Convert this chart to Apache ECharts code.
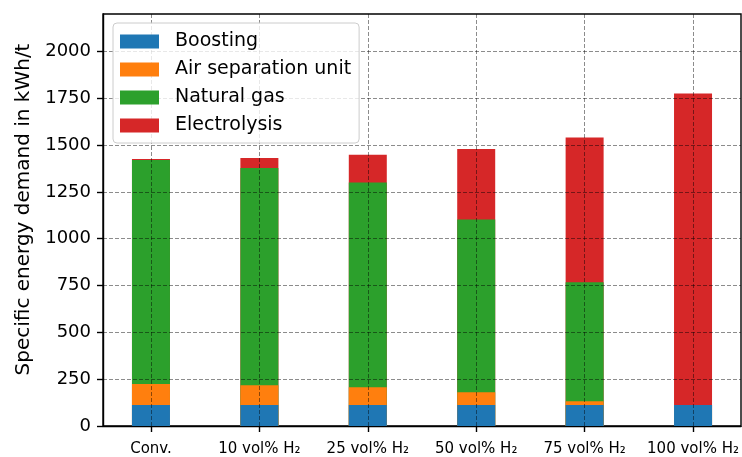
<!DOCTYPE html>
<html>
<head>
<meta charset="utf-8">
<script src="https://cdn.jsdelivr.net/npm/echarts@6/dist/echarts.min.js"></script>
<style>
  html, body { margin: 0; padding: 0; background: #fff; }
  #chart { width: 742px; height: 457px; }
</style>
</head>
<body>
<div id="chart"></div>
<script>
// Specific energy demand per process route, stacked by consumer (kWh/t)
const categories = ['Conv.', '10 vol% H\u2082', '25 vol% H\u2082', '50 vol% H\u2082', '75 vol% H\u2082', '100 vol% H\u2082'];
const boosting      = [112, 112, 112, 112, 112, 112];
const airSeparation = [112, 105, 95, 68, 20, 0];
const naturalGas    = [1197, 1161, 1093, 923, 636, 0];
const electrolysis  = [5, 53, 149, 376, 773, 1664];
const yTicks = [0, 250, 500, 750, 1000, 1250, 1500, 1750, 2000];
const seriesNames = ['Boosting', 'Air separation unit', 'Natural gas', 'Electrolysis'];
const seriesColors = ['#1f77b4', '#ff7f0e', '#2ca02c', '#d62728'];

const catIndex = categories.map((_, i) => i);
const gridDash = { type: [4, 2], color: 'rgba(0,0,0,0.45)', width: 1 };

// Stack the components: each segment's top is the running sum of the layers below it.
const layers = [boosting, airSeparation, naturalGas, electrolysis];
const running = categories.map(() => 0);
const layerTops = layers.map(layer => layer.map((v, i) => (running[i] += v)));

// Segments overlap at the same x; the tallest (top) layer is drawn first
// so every lower layer paints over it.
const barSeries = layers.map((_, k) => ({
  name: seriesNames[k],
  type: 'bar',
  barWidth: 38,
  barGap: '-100%',
  z: 2 + (layers.length - k) * 0.01,
  itemStyle: { color: seriesColors[k] },
  data: layerTops[k].map((top, i) => [i, top])
})).reverse();

const chart = echarts.init(document.getElementById('chart'), null, { renderer: 'canvas' });
chart.setOption({
  animation: false,
  textStyle: { fontFamily: 'DejaVu Sans' },
  grid: {
    left: 103, top: 14, width: 640.4, height: 415,
    show: true, borderColor: '#000', borderWidth: 1.4, backgroundColor: 'transparent'
  },
  legend: {
    data: seriesNames,
    orient: 'vertical',
    left: 113, top: 23,
    itemWidth: 39, itemHeight: 14, itemGap: 9,
    padding: [9, 8, 8, 7],
    icon: 'rect',
    backgroundColor: 'rgba(255,255,255,0.8)',
    borderColor: '#cccccc', borderWidth: 1, borderRadius: 4,
    z: 20,
    textStyle: { fontSize: 19, color: '#000', padding: [0, 0, 0, 11] }
  },
  xAxis: {
    type: 'value',
    min: -0.4425, max: 5.4425,
    splitLine: { show: false },
    axisLine: { show: true, onZero: false, lineStyle: { color: '#000', width: 1.4 } },
    axisTick: { show: true, customValues: catIndex, length: 6, lineStyle: { color: '#000', width: 1.4 } },
    axisLabel: {
      customValues: catIndex,
      formatter: v => categories[Math.round(v)],
      fontSize: 15, color: '#000', margin: 16
    }
  },
  yAxis: {
    type: 'value',
    min: 0, max: 2200, interval: 250,
    z: 5,
    name: 'Specific energy demand in kWh/t',
    nameLocation: 'middle',
    nameGap: 61,
    nameTextStyle: { fontSize: 20, color: '#000', padding: [0, 0, 0, 21] },
    axisLine: { show: true, onZero: false, lineStyle: { color: '#000', width: 1.4 } },
    axisTick: { show: true, customValues: yTicks, length: 6, lineStyle: { color: '#000', width: 1.4 } },
    axisLabel: { customValues: yTicks, formatter: v => String(v), fontSize: 18, color: '#000', margin: 12 },
    splitLine: { show: true, lineStyle: gridDash }
  },
  series: barSeries.concat([{
    // vertical grid lines at the category positions, drawn over the bars
    type: 'line',
    data: [],
    silent: true,
    markLine: {
      silent: true,
      symbol: 'none',
      label: { show: false },
      lineStyle: gridDash,
      data: catIndex.map(i => ({ xAxis: i }))
    }
  }])
});
</script>
</body>
</html>
